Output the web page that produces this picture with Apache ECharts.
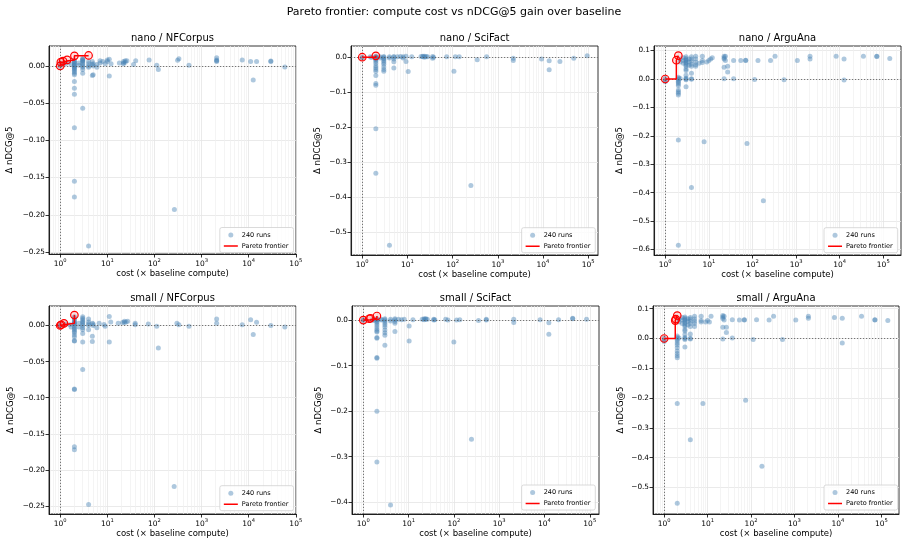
<!DOCTYPE html>
<html>
<head>
<meta charset="utf-8">
<script src="https://cdn.jsdelivr.net/npm/echarts@6.0.0/dist/echarts.min.js"></script>
<style>
  html, body { margin: 0; padding: 0; background: #fff; }
  #paretoChart { width: 908px; height: 547px; }
</style>
</head>
<body>
<div id="paretoChart"></div>
<script>
// ---- tick labels ----
const xMajorTicks = [1, 10, 100, 1000, 10000, 100000];
const xMinorTicks = [0.6, 0.7, 0.8, 0.9, 2, 3, 4, 5, 6, 7, 8, 9,
  20, 30, 40, 50, 60, 70, 80, 90, 200, 300, 400, 500, 600, 700, 800, 900,
  2000, 3000, 4000, 5000, 6000, 7000, 8000, 9000,
  20000, 30000, 40000, 50000, 60000, 70000, 80000, 90000, 200000];
const yTicksNfcorpusNano = [0, -0.05, -0.10, -0.15, -0.20, -0.25];
const yTicksScifactNano = [0, -0.1, -0.2, -0.3, -0.4, -0.5];
const yTicksArguanaNano = [0.1, 0, -0.1, -0.2, -0.3, -0.4, -0.5, -0.6];
const yTicksNfcorpusSmall = [0, -0.05, -0.10, -0.15, -0.20, -0.25];
const yTicksScifactSmall = [0, -0.1, -0.2, -0.3, -0.4];
const yTicksArguanaSmall = [0.1, 0, -0.1, -0.2, -0.3, -0.4, -0.5];

// ---- nano / NFCorpus ----
const nanoNfCost = [1, 1, 1.2, 1.3, 1.5, 1.7,
  2, 2, 2, 2, 2, 2, 2, 2, 2, 2, 2, 2, 2, 2, 2, 2, 2, 2, 2, 2,
  2.5, 2.5,
  3, 3, 3, 3, 3, 3, 3, 3, 3, 3, 3, 3,
  4, 4, 4, 4, 4, 4.8, 4.8, 4.8, 5, 5, 5, 6, 6, 7, 7, 8, 9, 10, 10, 11, 11, 12,
  18, 22, 22, 22, 24, 24, 26, 36, 40, 77, 112, 121, 265, 310, 330, 540,
  2090, 2090, 2090, 2090, 7300, 11000, 12500, 14700, 29500, 29500, 58500];
const nanoNfDelta = [0.002, -0.001, 0.004, 0.003, 0.005, 0.002,
  0.008, 0.006, 0.005, 0.004, 0.002, 0.001, 0.000, -0.002, -0.003, -0.004, -0.006, -0.008, -0.010, -0.012, -0.021, -0.030, -0.038, -0.083, -0.155, -0.176,
  0.004, 0.001,
  0.010, 0.009, 0.008, 0.007, 0.006, 0.004, 0.002, 0.000, -0.002, -0.005, -0.010, -0.057,
  0.006, 0.003, 0.000, -0.002, -0.242, 0.006, 0.002, -0.013, 0.003, 0.000, -0.012, 0.002, -0.002, 0.007, 0.004, 0.006, 0.003, 0.008, 0.006, 0.009, -0.0135, 0.003,
  0.004, 0.006, 0.004, 0.003, 0.007, 0.005, 0.007, 0.002, 0.007, 0.008, 0.001, -0.005, -0.193, 0.0075, 0.0095, 0.001,
  0.011, 0.008, 0.007, 0.006, 0.008, 0.006, -0.019, 0.006, 0.006, 0.0065, -0.0015];
const nanoNfParetoCost = [1, 1.03, 1.15, 1.4, 2, 4];
const nanoNfParetoDelta = [0.0, 0.005, 0.0065, 0.008, 0.0135, 0.014];

// ---- nano / SciFact ----
const nanoSciCost = [1, 1, 1.5, 1.6,
  2, 2, 2, 2, 2, 2, 2, 2, 2, 2, 2, 2, 2, 2, 2, 2, 2,
  2.5, 2.5,
  3, 3, 3, 3, 3, 3, 3, 3, 3, 3,
  4, 4, 4, 5, 5, 5, 5, 5, 6, 7, 8, 8, 9.3, 9.3, 10.4, 12.5,
  20, 22, 22, 24, 24, 26, 28, 36, 36, 38, 74, 107, 115, 140, 254, 350, 565,
  2200, 2200, 9300, 13700, 13700, 23700, 48000, 95000];
const nanoSciDelta = [0, -0.002, 0.001, -0.001,
  0.002, 0.001, 0, -0.002, -0.005, -0.008, -0.012, -0.018, -0.025, -0.030, -0.035, -0.040, -0.052, -0.075, -0.080, -0.204, -0.331,
  0.001, -0.002,
  0.002, 0, -0.003, -0.006, -0.010, -0.015, -0.020, -0.028, -0.035, -0.040,
  0.001, -0.002, -0.536, 0.002, 0, -0.005, -0.013, -0.031, 0.001, 0.002, 0.001, -0.002, 0.003, -0.012, -0.041, 0.001,
  0.002, 0.003, 0.001, 0.003, 0, 0.002, 0.001, 0.002, -0.003, 0, 0.001, -0.040, 0.001, 0.001, -0.366, -0.0075, 0.001,
  -0.003, -0.009, -0.005, -0.010, -0.036, -0.012, -0.003, 0.004];
const nanoSciParetoCost = [1, 2];
const nanoSciParetoDelta = [0, 0.004];

// ---- nano / ArguAna ----
const nanoArgCost = [1, 1, 1,
  2, 2, 2, 2, 2, 2, 2, 2, 2, 2, 2, 2, 2,
  2.2, 2.2, 2.2, 2.6, 2.6, 2.6,
  3, 3, 3, 3, 3, 3, 3, 3, 3, 3, 3, 3, 3, 3, 3,
  3.5, 3.5, 3.5, 4, 4, 4, 4, 4, 4, 4, 4, 4,
  5, 5, 5, 5, 5, 6, 7.1, 7.1, 7.1, 7.8, 9, 10, 11, 12,
  22.4, 22.4, 22.4, 22.4, 22.4, 24, 24, 27, 27, 37, 37, 54, 70, 70, 75, 112, 134, 178, 260, 330, 530,
  1070, 2090, 2090, 8300, 12600, 12600, 35000, 71000, 71000, 141000];
const nanoArgDelta = [-0.005, -0.010, 0.002,
  0.006, 0.002, -0.003, -0.008, -0.012, -0.018, -0.024, -0.039, -0.045, -0.050, -0.056, -0.215, -0.585,
  0.070, 0.060, 0.002, 0.075, 0.065, 0.055,
  0.078, 0.072, 0.068, 0.065, 0.060, 0.055, 0.050, 0.045, 0.035, 0.030, 0.013, 0.003, 0, -0.003, -0.027,
  0.070, 0.060, 0.048, 0.078, 0.070, 0.062, 0.052, 0.045, 0.020, 0.001, -0.001, -0.382,
  0.080, 0.070, 0.060, 0.050, 0.045, 0.055, 0.080, 0.065, 0.058, -0.221, 0.060, 0.065, 0.070, 0.075,
  0.080, 0.075, 0.070, 0.041, 0.001, 0.080, 0.065, 0.045, 0.025, 0.065, 0.001, 0.065, 0.065, 0.066, -0.227, -0.002, 0.065, -0.428, 0.065, 0.080, -0.003,
  0.065, 0.080, 0.070, 0.080, 0.070, -0.004, 0.080, 0.080, 0.079, 0.072];
const nanoArgParetoCost = [1, 1.8, 2];
const nanoArgParetoDelta = [0, 0.066, 0.082];

// ---- small / NFCorpus ----
const smallNfCost = [1, 1, 1.3, 1.6, 1.7,
  2, 2, 2, 2, 2, 2, 2, 2, 2, 2, 2, 2, 2, 2, 2, 2, 2, 2, 2, 2, 2,
  2.5, 2.5,
  3, 3, 3, 3, 3, 3, 3, 3, 3, 3, 3, 3,
  4, 4, 4, 4, 4, 4, 4.8, 4.8, 4.8, 5, 5, 6, 6.7, 8.5, 9, 11, 11, 11.8,
  17, 21, 23, 23, 25, 27, 39, 39, 74, 112, 121, 262, 300, 330, 540,
  2090, 2090, 7300, 11000, 12500, 14700, 29500, 58500];
const smallNfDelta = [0.001, -0.001, 0.002, 0.001, -0.002,
  0.012, 0.010, 0.008, 0.006, 0.004, 0.003, 0.002, 0, -0.002, -0.004, -0.006, -0.008, -0.010, -0.013, -0.016, -0.021, -0.0215, -0.088, -0.0885, -0.168, -0.172,
  0.003, -0.002,
  0.012, 0.010, 0.008, 0.006, 0.004, 0.002, 0, -0.003, -0.006, -0.011, -0.023, -0.061,
  0.009, 0.005, 0.002, 0, -0.006, -0.248, 0.003, -0.015, -0.022, 0.002, 0, -0.003, 0.003, 0.0015, -0.001, 0.0125, -0.023, 0.005,
  0.003, 0.004, 0.006, 0.004, 0.005, 0.006, 0.003, 0.001, 0.002, -0.001, -0.031, -0.223, 0.003, 0.001, -0.001,
  0.009, 0.003, 0.001, 0.008, -0.0125, 0.0045, 0, -0.002];
const smallNfParetoCost = [1, 1.05, 1.2, 2];
const smallNfParetoDelta = [0, 0.001, 0.003, 0.0145];

// ---- small / SciFact ----
const smallSciCost = [1, 1, 1.6, 1.7,
  2, 2, 2, 2, 2, 2, 2, 2, 2, 2, 2, 2, 2, 2, 2, 2,
  2.5, 2.5,
  3, 3, 3, 3, 3, 3, 3, 3, 3, 3,
  4, 4, 4, 5, 5, 5, 5, 5, 6, 7, 8, 10.3, 10.3, 12.5,
  20, 22, 22, 24, 24, 26, 36, 36, 38, 66, 74, 100, 115, 135, 245, 350, 520, 520,
  2100, 2100, 8000, 12500, 12500, 20500, 42000, 42000, 85000];
const smallSciDelta = [-0.001, 0.001, 0.001, -0.001,
  0.003, 0.001, 0, -0.003, -0.006, -0.010, -0.015, -0.020, -0.024, -0.026, -0.038, -0.040, -0.082, -0.084, -0.200, -0.312,
  0.002, 0,
  0.003, 0.001, -0.002, -0.006, -0.010, -0.015, -0.022, -0.028, -0.033, -0.055,
  0.002, -0.002, -0.406, 0.003, 0.001, -0.003, -0.007, -0.025, 0.002, 0.001, 0.002, -0.013, -0.046, 0.001,
  0.002, 0.003, 0.001, 0.003, 0.002, 0.002, 0.002, 0, 0.001, 0.002, 0, -0.048, 0, 0.001, -0.262, -0.001, 0.002, 0,
  0.002, -0.005, 0.001, -0.006, -0.031, 0.001, 0.004, 0.003, 0.002];
const smallSciParetoCost = [1, 1.35, 1.45, 2];
const smallSciParetoDelta = [0, 0.003, 0.004, 0.009];

// ---- small / ArguAna ----
const smallArgCost = [1, 1, 1,
  2, 2, 2, 2, 2, 2, 2, 2, 2, 2, 2, 2, 2,
  2.2, 2.2, 2.2, 2.6, 2.6, 2.6,
  3, 3, 3, 3, 3, 3, 3, 3, 3, 3, 3, 3, 3, 3, 3,
  3.5, 3.5, 3.5, 4, 4, 4, 4, 4, 4, 4, 4, 4,
  5, 5, 5, 5, 5, 7.1, 7.1, 7.1, 7.8, 9, 10, 11, 12,
  22.4, 22.4, 22.4, 22.4, 22.4, 24, 24, 27, 27, 37, 37, 54, 70, 70, 75, 112, 134, 178, 260, 330, 530,
  1070, 2090, 2090, 8300, 12600, 12600, 35000, 71000, 71000, 141000];
const smallArgDelta = [-0.005, -0.010, 0.002,
  0.008, 0.003, -0.002, -0.008, -0.015, -0.022, -0.031, -0.042, -0.050, -0.058, -0.065, -0.218, -0.553,
  0.065, 0.055, 0.002, 0.070, 0.062, 0.050,
  0.072, 0.068, 0.064, 0.060, 0.055, 0.050, 0.045, 0.040, 0.030, 0.025, 0.013, 0.003, 0, -0.003, -0.029,
  0.066, 0.058, 0.045, 0.070, 0.065, 0.058, 0.050, 0.040, 0.015, 0.001, -0.002, -0.340,
  0.075, 0.065, 0.058, 0.050, 0.040, 0.075, 0.060, 0.055, -0.218, 0.055, 0.060, 0.055, 0.075,
  0.077, 0.072, 0.067, 0.038, -0.002, 0.075, 0.062, 0.038, 0.020, 0.063, 0.002, 0.062, 0.063, 0.062, -0.207, -0.003, 0.063, -0.429, 0.062, 0.075, -0.003,
  0.062, 0.075, 0.068, 0.070, 0.068, -0.015, 0.075, 0.063, 0.062, 0.060];
const smallArgParetoCost = [1, 1.8, 1.85, 2];
const smallArgParetoDelta = [0, 0.060, 0.065, 0.077];

const panels = [
  { title: "nano / NFCorpus", cost: nanoNfCost, delta: nanoNfDelta, pCost: nanoNfParetoCost, pDelta: nanoNfParetoDelta,
    yTicks: yTicksNfcorpusNano, dec: 2, x: [0.578, 101000], y: [-0.2527, 0.0267],
    grid: { left: 49, top: 46, width: 247, height: 208 }, nameGap: 34.5, legend: { right: 614.5, bottom: 294.5 } },
  { title: "nano / SciFact", cost: nanoSciCost, delta: nanoSciDelta, pCost: nanoSciParetoCost, pDelta: nanoSciParetoDelta,
    yTicks: yTicksScifactNano, dec: 1, x: [0.564, 165000], y: [-0.564, 0.032],
    grid: { left: 351, top: 46, width: 247, height: 209 }, nameGap: 28.5, legend: { right: 312.7, bottom: 294.3 } },
  { title: "nano / ArguAna", cost: nanoArgCost, delta: nanoArgDelta, pCost: nanoArgParetoCost, pDelta: nanoArgParetoDelta,
    yTicks: yTicksArguanaNano, dec: 1, x: [0.553, 255000], y: [-0.619, 0.116],
    grid: { left: 654, top: 46, width: 247, height: 209 }, nameGap: 29.5, legend: { right: 10.3, bottom: 294.3 } },
  { title: "small / NFCorpus", cost: smallNfCost, delta: smallNfDelta, pCost: smallNfParetoCost, pDelta: smallNfParetoDelta,
    yTicks: yTicksNfcorpusSmall, dec: 2, x: [0.578, 101000], y: [-0.261, 0.027],
    grid: { left: 49, top: 306, width: 247, height: 208 }, nameGap: 33.5, legend: { right: 614.5, bottom: 36.3 } },
  { title: "small / SciFact", cost: smallSciCost, delta: smallSciDelta, pCost: smallSciParetoCost, pDelta: smallSciParetoDelta,
    yTicks: yTicksScifactSmall, dec: 1, x: [0.564, 160000], y: [-0.426, 0.031],
    grid: { left: 352, top: 306, width: 247, height: 208 }, nameGap: 28.5, legend: { right: 312.7, bottom: 37 } },
  { title: "small / ArguAna", cost: smallArgCost, delta: smallArgDelta, pCost: smallArgParetoCost, pDelta: smallArgParetoDelta,
    yTicks: yTicksArguanaSmall, dec: 1, x: [0.553, 255000], y: [-0.589, 0.109],
    grid: { left: 653, top: 306, width: 246, height: 208 }, nameGap: 27.5, legend: { right: 10.3, bottom: 37 } },
];

const FONT = "DejaVu Sans";
const scatterColor = "rgba(70,130,180,0.55)";

const chart = echarts.init(document.getElementById("paretoChart"), null, { renderer: "canvas" });

const grids = [], xAxes = [], yAxes = [], series = [], legends = [], graphics = [];

graphics.push({
  type: "text", x: 454, y: 12,
  style: { text: "Pareto frontier: compute cost vs nDCG@5 gain over baseline", align: "center", verticalAlign: "middle",
    fontSize: 11, fontFamily: FONT, fill: "#000" },
});

panels.forEach((p, i) => {
  grids.push({ ...p.grid, show: true, borderColor: "#000", borderWidth: 0.8, containLabel: false });

  graphics.push({
    type: "text", x: p.grid.left + p.grid.width / 2, y: p.grid.top - 8,
    style: { text: p.title, align: "center", verticalAlign: "middle", fontSize: 10, fontFamily: FONT, fill: "#000" },
  });

  // main log axis (major ticks/labels)
  xAxes.push({
    type: "log", logBase: 10, gridIndex: i, position: "bottom", min: p.x[0], max: p.x[1],
    name: "cost (× baseline compute)", nameLocation: "middle", nameGap: 13,
    nameTextStyle: { fontSize: 8.5, fontFamily: FONT, color: "#000" },
    axisLine: { show: true, onZero: false, lineStyle: { color: "#000", width: 0.8 } },
    axisTick: { show: true, customValues: xMajorTicks, length: 3.5, lineStyle: { color: "#000", width: 0.8 } },
    axisLabel: {
      customValues: xMajorTicks, margin: 4,
      formatter: (v) => "{b|10}{s|" + Math.round(Math.log10(v)) + "}",
      rich: {
        b: { fontSize: 7.5, fontFamily: FONT, color: "#000", lineHeight: 10, verticalAlign: "bottom" },
        s: { fontSize: 5.2, fontFamily: FONT, color: "#000", lineHeight: 4, verticalAlign: "top" },
      },
    },
    splitLine: { show: true, lineStyle: { color: "#e4e4e4", width: 0.8 } },
  });
  // minor log gridlines
  xAxes.push({
    type: "log", logBase: 10, gridIndex: i, position: "top", min: p.x[0], max: p.x[1],
    axisLine: { show: false }, axisLabel: { show: false },
    axisTick: { show: false, customValues: xMinorTicks },
    splitLine: { show: true, lineStyle: { color: "#efefef", width: 0.7 } },
  });

  yAxes.push({
    type: "value", gridIndex: i, min: p.y[0], max: p.y[1],
    name: "Δ nDCG@5", nameLocation: "middle", nameRotate: 90, nameGap: p.nameGap,
    nameTextStyle: { fontSize: 8.5, fontFamily: FONT, color: "#000" },
    axisLine: { show: true, lineStyle: { color: "#000", width: 0.8 } },
    axisTick: { show: true, customValues: p.yTicks, length: 3.5, lineStyle: { color: "#000", width: 0.8 } },
    axisLabel: {
      customValues: p.yTicks, margin: 4, fontSize: 7.3, fontFamily: FONT, color: "#000",
      formatter: (v) => (v < -1e-9 ? "\u2212" : "") + Math.abs(v).toFixed(p.dec),
    },
    splitLine: { show: true, lineStyle: { color: "#e4e4e4", width: 0.8 } },
  });

  series.push({
    name: "240 runs", type: "scatter", xAxisIndex: 2 * i, yAxisIndex: i,
    data: p.cost.map((c, k) => [c, p.delta[k]]),
    symbolSize: 5, itemStyle: { color: scatterColor }, z: 3,
    markLine: {
      silent: true, symbol: "none", label: { show: false },
      lineStyle: { color: "#555", width: 0.8, type: [1.2, 1.8] },
      data: [{ yAxis: 0 }, { xAxis: 1 }],
    },
  });
  series.push({
    name: "Pareto frontier", type: "line", step: "end", xAxisIndex: 2 * i, yAxisIndex: i,
    data: p.pCost.map((c, k) => [c, p.pDelta[k]]),
    lineStyle: { color: "red", width: 1.5 },
    symbol: "circle", symbolSize: 7.5, showAllSymbol: true,
    itemStyle: { color: "rgba(255,0,0,0.12)", borderColor: "red", borderWidth: 1.2 },
    z: 5,
  });

  legends.push({
    ...p.legend, orient: "vertical", itemWidth: 14, itemHeight: 5, itemGap: 4,
    symbolKeepAspect: false, padding: [4, 5, 3, 4],
    borderColor: "#d0d0d0", borderWidth: 0.8, borderRadius: 2, backgroundColor: "rgba(255,255,255,0.8)",
    textStyle: { fontSize: 6.5, fontFamily: FONT, color: "#000", padding: [0, 0, 0, -1] },
    selectedMode: false,
    data: [
      { name: "240 runs", icon: "circle", itemStyle: { color: scatterColor, borderWidth: 0 } },
      { name: "Pareto frontier", icon: "path://M0,0h0.1v0.1h-0.1z M0,3.5h20v3h-20z M0,10h0.1v0.1h-0.1z",
        itemStyle: { color: "red", borderWidth: 0, borderColor: "transparent" } },
    ],
  });
});

const option = {
  animation: false,
  backgroundColor: "#fff",
  textStyle: { fontFamily: FONT },
  grid: grids,
  xAxis: xAxes,
  yAxis: yAxes,
  legend: legends,
  graphic: graphics,
  series: series,
};

option && chart.setOption(option);
</script>
</body>
</html>
